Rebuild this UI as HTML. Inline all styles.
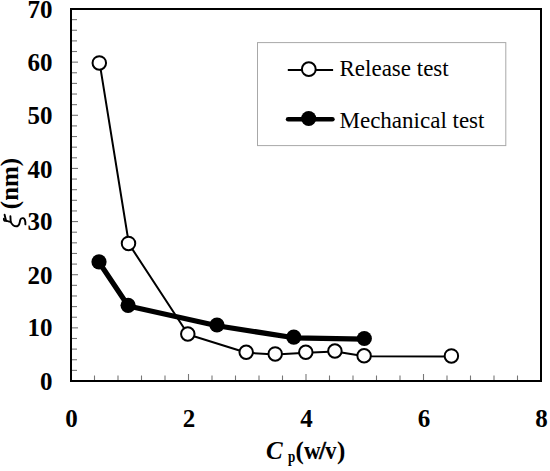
<!DOCTYPE html>
<html><head><meta charset="utf-8"><style>
html,body{margin:0;padding:0;background:#fff;}
svg{display:block;}
text{font-family:"Liberation Serif",serif;}
.tl{font-size:25px;font-weight:bold;fill:#000;}
.tk{stroke:#777;stroke-width:1.1;}
.oc{fill:#fff;stroke:#000;stroke-width:2;}
.fc{fill:#000;stroke:none;}
.lg{font-size:23px;fill:#000;}
</style></head><body>
<svg width="550" height="471" viewBox="0 0 550 471">
<rect x="0" y="0" width="550" height="471" fill="#fff"/>
<line x1="71" y1="370.37" x2="77" y2="370.37" class="tk"/>
<line x1="71" y1="359.74" x2="77" y2="359.74" class="tk"/>
<line x1="71" y1="349.11" x2="77" y2="349.11" class="tk"/>
<line x1="71" y1="338.49" x2="77" y2="338.49" class="tk"/>
<line x1="71" y1="327.86" x2="78" y2="327.86" class="tk"/>
<line x1="71" y1="317.23" x2="77" y2="317.23" class="tk"/>
<line x1="71" y1="306.60" x2="77" y2="306.60" class="tk"/>
<line x1="71" y1="295.97" x2="77" y2="295.97" class="tk"/>
<line x1="71" y1="285.34" x2="77" y2="285.34" class="tk"/>
<line x1="71" y1="274.71" x2="78" y2="274.71" class="tk"/>
<line x1="71" y1="264.09" x2="77" y2="264.09" class="tk"/>
<line x1="71" y1="253.46" x2="77" y2="253.46" class="tk"/>
<line x1="71" y1="242.83" x2="77" y2="242.83" class="tk"/>
<line x1="71" y1="232.20" x2="77" y2="232.20" class="tk"/>
<line x1="71" y1="221.57" x2="78" y2="221.57" class="tk"/>
<line x1="71" y1="210.94" x2="77" y2="210.94" class="tk"/>
<line x1="71" y1="200.31" x2="77" y2="200.31" class="tk"/>
<line x1="71" y1="189.69" x2="77" y2="189.69" class="tk"/>
<line x1="71" y1="179.06" x2="77" y2="179.06" class="tk"/>
<line x1="71" y1="168.43" x2="78" y2="168.43" class="tk"/>
<line x1="71" y1="157.80" x2="77" y2="157.80" class="tk"/>
<line x1="71" y1="147.17" x2="77" y2="147.17" class="tk"/>
<line x1="71" y1="136.54" x2="77" y2="136.54" class="tk"/>
<line x1="71" y1="125.91" x2="77" y2="125.91" class="tk"/>
<line x1="71" y1="115.29" x2="78" y2="115.29" class="tk"/>
<line x1="71" y1="104.66" x2="77" y2="104.66" class="tk"/>
<line x1="71" y1="94.03" x2="77" y2="94.03" class="tk"/>
<line x1="71" y1="83.40" x2="77" y2="83.40" class="tk"/>
<line x1="71" y1="72.77" x2="77" y2="72.77" class="tk"/>
<line x1="71" y1="62.14" x2="78" y2="62.14" class="tk"/>
<line x1="71" y1="51.51" x2="77" y2="51.51" class="tk"/>
<line x1="71" y1="40.89" x2="77" y2="40.89" class="tk"/>
<line x1="71" y1="30.26" x2="77" y2="30.26" class="tk"/>
<line x1="71" y1="19.63" x2="77" y2="19.63" class="tk"/>
<line x1="94.50" y1="381" x2="94.50" y2="375.5" class="tk"/>
<line x1="118.00" y1="381" x2="118.00" y2="375.5" class="tk"/>
<line x1="141.50" y1="381" x2="141.50" y2="375.5" class="tk"/>
<line x1="165.00" y1="381" x2="165.00" y2="375.5" class="tk"/>
<line x1="188.50" y1="381" x2="188.50" y2="374" class="tk"/>
<line x1="212.00" y1="381" x2="212.00" y2="375.5" class="tk"/>
<line x1="235.50" y1="381" x2="235.50" y2="375.5" class="tk"/>
<line x1="259.00" y1="381" x2="259.00" y2="375.5" class="tk"/>
<line x1="282.50" y1="381" x2="282.50" y2="375.5" class="tk"/>
<line x1="306.00" y1="381" x2="306.00" y2="374" class="tk"/>
<line x1="329.50" y1="381" x2="329.50" y2="375.5" class="tk"/>
<line x1="353.00" y1="381" x2="353.00" y2="375.5" class="tk"/>
<line x1="376.50" y1="381" x2="376.50" y2="375.5" class="tk"/>
<line x1="400.00" y1="381" x2="400.00" y2="375.5" class="tk"/>
<line x1="423.50" y1="381" x2="423.50" y2="374" class="tk"/>
<line x1="447.00" y1="381" x2="447.00" y2="375.5" class="tk"/>
<line x1="470.50" y1="381" x2="470.50" y2="375.5" class="tk"/>
<line x1="494.00" y1="381" x2="494.00" y2="375.5" class="tk"/>
<line x1="517.50" y1="381" x2="517.50" y2="375.5" class="tk"/>
<rect x="71" y="9" width="470" height="372" fill="none" stroke="#000" stroke-width="2"/>
<text x="52.5" y="390.40" class="tl" text-anchor="end">0</text>
<text x="52.5" y="336.06" class="tl" text-anchor="end">10</text>
<text x="52.5" y="283.81" class="tl" text-anchor="end">20</text>
<text x="52.5" y="229.77" class="tl" text-anchor="end">30</text>
<text x="52.5" y="177.93" class="tl" text-anchor="end">40</text>
<text x="52.5" y="124.29" class="tl" text-anchor="end">50</text>
<text x="52.5" y="71.44" class="tl" text-anchor="end">60</text>
<text x="52.5" y="17.90" class="tl" text-anchor="end">70</text>
<text x="71.40" y="426.5" class="tl" text-anchor="middle">0</text>
<text x="188.90" y="426.5" class="tl" text-anchor="middle">2</text>
<text x="306.40" y="426.5" class="tl" text-anchor="middle">4</text>
<text x="423.90" y="426.5" class="tl" text-anchor="middle">6</text>
<text x="541.40" y="426.5" class="tl" text-anchor="middle">8</text>
<path d="M99.2,262.5 L128.3,306.0 L217.2,325.7 L294.0,337.8 L364.5,339.2" fill="none" stroke="#000" stroke-width="5.2" stroke-linejoin="round"/>
<path d="M99.7,63.4 L128.9,243.9 L188.2,334.5 L246.6,352.8 L275.6,354.4 L306.2,352.8 L335.3,351.5 L364.5,356.2 L451.8,356.4" fill="none" stroke="#000" stroke-width="2" stroke-linejoin="round"/>
<circle cx="99.0" cy="261.8" r="7.6" class="fc"/>
<circle cx="128.1" cy="305.3" r="7.6" class="fc"/>
<circle cx="217.0" cy="325.0" r="7.6" class="fc"/>
<circle cx="293.8" cy="337.1" r="7.6" class="fc"/>
<circle cx="364.3" cy="338.5" r="7.6" class="fc"/>
<circle cx="99.3" cy="62.9" r="6.75" class="oc"/>
<circle cx="128.5" cy="243.4" r="6.75" class="oc"/>
<circle cx="187.8" cy="334.0" r="6.75" class="oc"/>
<circle cx="246.2" cy="352.3" r="6.75" class="oc"/>
<circle cx="275.2" cy="353.9" r="6.75" class="oc"/>
<circle cx="305.8" cy="352.3" r="6.75" class="oc"/>
<circle cx="334.9" cy="351.0" r="6.75" class="oc"/>
<circle cx="364.1" cy="355.7" r="6.75" class="oc"/>
<circle cx="451.4" cy="355.9" r="6.75" class="oc"/>
<rect x="257.5" y="42.6" width="248.3" height="103" fill="none" stroke="#a8a8a8" stroke-width="1"/>
<line x1="287.8" y1="70" x2="333.1" y2="70" stroke="#000" stroke-width="2"/>
<circle cx="308.8" cy="69.2" r="6.9" class="oc"/>
<text x="339.5" y="76.1" class="lg">Release test</text>
<line x1="288.1" y1="119.3" x2="332.4" y2="119.3" stroke="#000" stroke-width="4.6" stroke-linecap="round"/>
<circle cx="308.7" cy="118.5" r="7.6" class="fc"/>
<text x="339.5" y="127.5" class="lg">Mechanical test</text>
<text x="266" y="459.2" class="tl" font-style="italic">C</text>
<text transform="translate(287.9,462.4) scale(0.82,1)" x="0" y="0" class="tl" style="font-size:16px">p</text>
<text x="295.5" y="459.2" class="tl">(</text>
<text transform="translate(304,459.2) scale(0.92,1)" x="0" y="0" class="tl">w</text>
<text x="319.0" y="459.2" class="tl" style="stroke:#000;stroke-width:0.5">/</text>
<text transform="translate(325.2,459.2) scale(0.9,1)" x="0" y="0" class="tl">v</text>
<text x="337" y="459.2" class="tl">)</text>
<g transform="translate(18.4,209.2) rotate(-90)">
<text x="0" y="0" class="tl">(nm)</text>
</g>
<g fill="none" stroke="#000" stroke-width="1.9" stroke-linecap="round" stroke-linejoin="round">
<path d="M4.6,214.7 C5.0,216.5 5.5,218.5 6.0,220.4"/>
<path d="M3.9,218.8 C3.6,220.3 4.6,221.2 6.0,220.7 C7.4,220.9 8.8,221.8 10.6,221.7"/>
<path d="M10.4,216.3 C10.5,218.2 10.6,220 10.7,221.8 C12,224.6 14.8,226.6 17.3,226.2 C19.6,225.7 19.6,222.6 20.1,220.5 C20.6,218.6 21.9,217.8 23.2,218.2 C24.8,218.8 25.5,221.2 25.4,224.4"/>
</g>
</svg>
</body></html>
